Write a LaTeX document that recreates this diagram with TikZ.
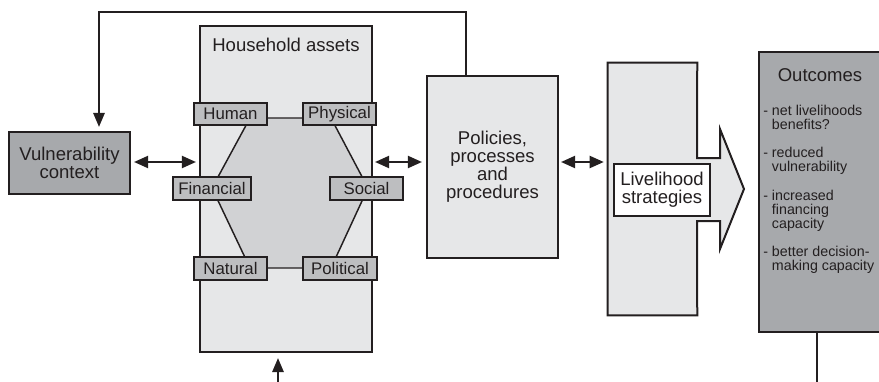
\documentclass[tikz,border=0pt]{standalone}
\usepackage{fontspec}
\setmainfont{Liberation Sans}
\usetikzlibrary{arrows.meta,calc}
\definecolor{lgray}{HTML}{E6E7E8}
\definecolor{hgray}{HTML}{D1D2D4}
\definecolor{mgray}{HTML}{BDBEC0}
\definecolor{dgray}{HTML}{A7A9AC}
\definecolor{ink}{HTML}{231F20}
\newcommand\fbig{\fontsize{13.9}{13.6}\selectfont}
\newcommand\flab{\fontsize{12.6}{14}\selectfont}
\newcommand\fitem{\fontsize{10.7}{12}\selectfont}
\tikzset{
  sz/.style 2 args={minimum width=#1*0.75pt, minimum height=#2*0.75pt},
  boxbase/.style={draw=ink, line width=1.6pt, inner sep=0pt, align=center, text=ink},
  lightbox/.style={boxbase, fill=lgray, font=\fbig},
  darkbox/.style={boxbase, fill=dgray, font=\fbig},
  labbox/.style={boxbase, fill=mgray, font=\flab},
  whitebox/.style={boxbase, fill=white, font=\fbig},
  dbl/.style={draw=ink, line width=1.5pt, {Triangle[length=10.5pt,width=9pt]}-{Triangle[length=10.5pt,width=9pt]}},
  sgl/.style={draw=ink, line width=1.5pt, -{Triangle[length=10.5pt,width=8.5pt]}},
  plain/.style={draw=ink, line width=1.5pt},
  hexedge/.style={draw=ink, line width=1.1pt, fill=hgray},
  itemtxt/.style={font=\fitem, text=ink, inner sep=0pt, anchor=base west},
}
\begin{document}
\begin{tikzpicture}[x=0.75pt,y=-0.75pt]
\useasboundingbox (0,0) rectangle (879,382);
\clip (0,0) rectangle (879,382);
% Vulnerability context
\node[darkbox, sz={121}{62}] (vul) at (69.5,163) {Vulnerability\\context};
% Household assets
\node[lightbox, sz={172}{326}] (hh) at (286,189) {};
\node[font=\fbig, text=ink, inner sep=0pt] (hht) at (286,45) {Household assets};
% hexagon
\coordinate (hx1) at (250,118);
\coordinate (hx2) at (331,118);
\coordinate (hx3) at (368,188);
\coordinate (hx4) at (331,268);
\coordinate (hx5) at (250,268);
\coordinate (hx6) at (212,188);
\draw[hexedge] (hx1) -- (hx2) -- (hx3) -- (hx4) -- (hx5) -- (hx6) -- cycle;
\node[labbox, sz={73}{22}] (hum) at (230.5,114) {Human};
\node[labbox, sz={73}{22}] (phy) at (339.5,114) {Physical};
\node[labbox, sz={78}{23}] (fin) at (212,188.5) {Financial};
\node[labbox, sz={73}{23}] (soc) at (366.5,188.5) {Social};
\node[labbox, sz={73}{23}] (nat) at (230.5,268.5) {Natural};
\node[labbox, sz={74}{23}] (polit) at (340,268.5) {Political};
% Policies
\node[lightbox, sz={131}{182}] (ppp) at (492.5,167) {Policies,\\processes\\and\\procedures};
% Livelihood strategies arrow
\node[inner sep=0pt, sz={89}{252}] (lsbar) at (652.5,189) {};
\draw[plain, fill=lgray] (lsbar.north west) -- (lsbar.north east) -- (697,158) -- (720,158)
  -- (720,129) -- (744,189) -- (720,249) -- (720,221) -- (697,221) -- (lsbar.south east)
  -- (lsbar.south west) -- cycle;
\node[whitebox, sz={96}{52}] (ls) at (662,190) {Livelihood\\strategies};
% Outcomes
\node[darkbox, sz={124}{280}] (out) at (821,192) {};
\node[font=\fbig, text=ink, inner sep=0pt, anchor=base] (outt) at (820,81) {Outcomes};
\node[itemtxt] (o1) at (763,115) {- net livelihoods};
\node[itemtxt] (o2) at (763,129) {\phantom{- }benefits?};
\node[itemtxt] (o3) at (763,157) {- reduced};
\node[itemtxt] (o4) at (763,171) {\phantom{- }vulnerability};
\node[itemtxt] (o5) at (763,200) {- increased};
\node[itemtxt] (o6) at (763,214) {\phantom{- }financing};
\node[itemtxt] (o7) at (763,228) {\phantom{- }capacity};
\node[itemtxt] (o8) at (763,256) {- better decision-};
\node[itemtxt] (o9) at (763,270) {\phantom{- }making capacity};
% connectors
\draw[dbl] ($(vul.east)+(3,-1)$) -- ($(hh.west |- vul.east)+(-3,-1)$);
\draw[dbl] ($(hh.east |- vul.east)+(2,-1)$) -- ($(ppp.west |- vul.east)+(-4,-1)$);
\draw[dbl] ($(ppp.east |- vul.east)+(2,-1)$) -- ($(lsbar.west |- vul.east)+(-4,-1)$);
\coordinate (loopA) at (466,12);
\coordinate (loopB) at (99,12);
\draw[sgl] (ppp.north -| loopA) -- (loopA) -- (loopB) -- ($(vul.north -| loopB)+(0,-4)$);
\coordinate (bot1) at (278,390);
\draw[sgl] (bot1) -- ($(hh.south -| bot1)+(0,5)$);
\coordinate (bot2) at (817,390);
\draw[plain] (out.south -| bot2) -- (bot2);
\end{tikzpicture}
\end{document}
